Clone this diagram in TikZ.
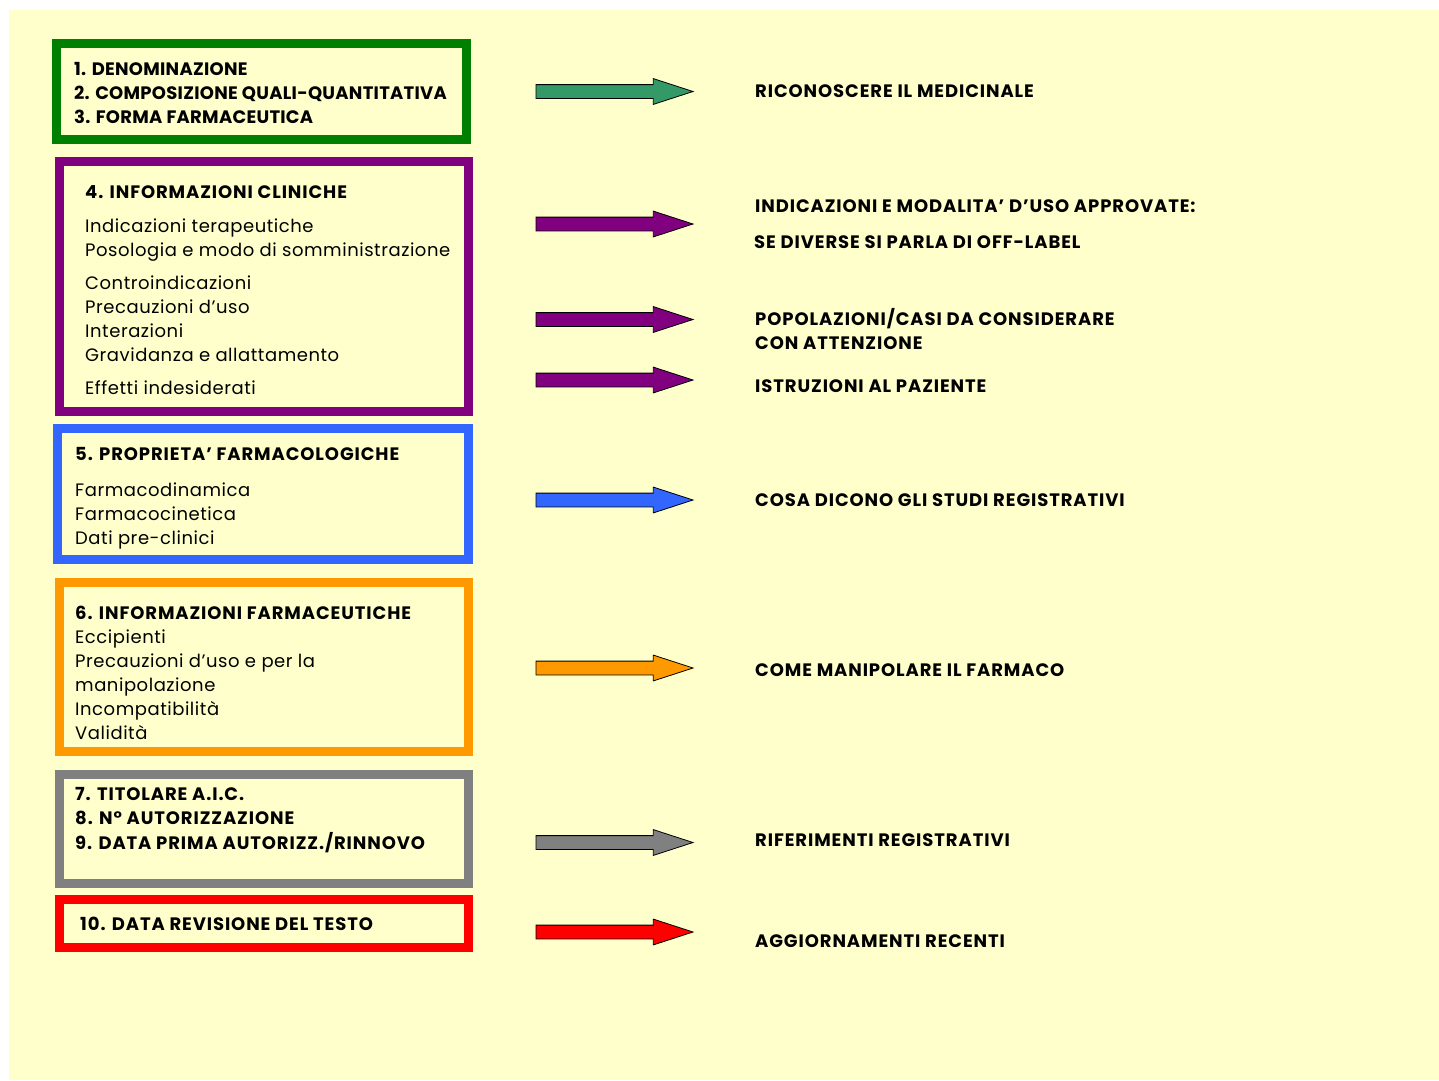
\documentclass[tikz,border=0pt]{standalone}
\usepackage{fontspec}
\setmainfont{Poppins}
\usetikzlibrary{shapes.arrows}

\definecolor{sfondo}{HTML}{FFFFCC}
\definecolor{verde}{HTML}{008000}
\definecolor{verdefr}{HTML}{339966}
\definecolor{viola}{HTML}{800080}
\definecolor{blu}{HTML}{3366FF}
\definecolor{arancio}{HTML}{FF9900}
\definecolor{grigio}{HTML}{808080}
\definecolor{rosso}{HTML}{FF0000}

\tikzset{
  riquadro/.style={draw=#1, line width=9pt, inner sep=0pt, outer sep=0pt, anchor=north west},
  freccia/.style={single arrow, draw=black, line width=0.8pt, fill=#1, inner xsep=0pt, inner ysep=6.5pt,
    outer sep=0pt, minimum height=157pt, single arrow head extend=6pt,
    single arrow tip angle=36, anchor=west},
  voce/.style={anchor=base west, inner sep=0pt,
    font=\fontsize{18}{24}\selectfont\addfontfeature{LetterSpace=3}},
  titolo/.style={anchor=base west, inner sep=0pt,
    font=\fontsize{18}{24}\selectfont\bfseries\addfontfeature{LetterSpace=5}},
  stretto/.style={font=\fontsize{18}{24}\selectfont\bfseries\addfontfeature{LetterSpace=1.5}},
}

\begin{document}
\begin{tikzpicture}[x=1pt,y=-1pt]
    \useasboundingbox (0,0) rectangle (1439,1080);
    \fill[sfondo] (9,10) rectangle (1439,1080);

    \node[riquadro=verde, minimum width=410, minimum height=96] (den) at (56.5,43.5) {};
    \node[riquadro=viola, minimum width=409, minimum height=250] (clin) at (59.5,161.5) {};
    \node[riquadro=blu, minimum width=411.5, minimum height=131.5] (prop) at (57,428) {};
    \node[riquadro=arancio, minimum width=408.5, minimum height=169.5] (farm) at (59.5,582) {};
    \node[riquadro=grigio, minimum width=409, minimum height=108.5] (aic) at (59.5,774.5) {};
    \node[riquadro=rosso, minimum width=409, minimum height=48] (rev) at (59.5,899.5) {};

    \node[titolo, stretto] (tden) at (74,75) {\begin{tabular}[t]{@{}l@{}}
      1. DENOMINAZIONE\\
      2. COMPOSIZIONE QUALI-QUANTITATIVA\\
      3. FORMA FARMACEUTICA\end{tabular}};
    \node[titolo] (tclin) at (85,198) {4. INFORMAZIONI CLINICHE};
    \node[voce] (vclin) at (85,232.5) {\begin{tabular}[t]{@{}l@{}}
      Indicazioni terapeutiche\\
      Posologia e modo di somministrazione\\[9pt]
      Controindicazioni\\
      Precauzioni d’uso\\
      Interazioni\\
      Gravidanza e allattamento\\[9pt]
      Effetti indesiderati\end{tabular}};
    \node[titolo] (tprop) at (75,460.7) {5. PROPRIETA’ FARMACOLOGICHE};
    \node[voce] (vprop) at (75,496) {\begin{tabular}[t]{@{}l@{}}
      Farmacodinamica\\
      Farmacocinetica\\
      Dati pre-clinici\end{tabular}};
    \node[titolo] (tfarm) at (75,619.3) {6. INFORMAZIONI FARMACEUTICHE};
    \node[voce] (vfarm) at (75,643.3) {\begin{tabular}[t]{@{}l@{}}
      Eccipienti\\
      Precauzioni d’uso e per la\\
      manipolazione\\
      Incompatibilità\\
      Validità\end{tabular}};
    \node[titolo] (taic) at (75,800.7) {\begin{tabular}[t]{@{}l@{}}
      7. TITOLARE A.I.C.\\
      8. N° AUTORIZZAZIONE\\
      9. DATA PRIMA AUTORIZZ./RINNOVO\end{tabular}};
    \node[titolo] (trev) at (80,930) {10. DATA REVISIONE DEL TESTO};

    \node[freccia=verdefr] (f1) at (536,91.5) {};
    \node[freccia=viola] (f2) at (536,224) {};
    \node[freccia=viola] (f3) at (536,319.5) {};
    \node[freccia=viola] (f4) at (536,380) {};
    \node[freccia=blu] (f5) at (536,500) {};
    \node[freccia=arancio] (f6) at (536,668) {};
    \node[freccia=grigio] (f7) at (536,842.5) {};
    \node[freccia=rosso] (f8) at (536,932) {};

    \node[titolo] (l1) at (755,97.5) {RICONOSCERE IL MEDICINALE};
    \node[titolo] (l2) at (755,212.3) {INDICAZIONI E MODALITA’ D’USO APPROVATE:};
    \node[titolo] (l3) at (754,248.3) {SE DIVERSE SI PARLA DI OFF-LABEL};
    \node[titolo] (l4) at (755,325.7) {\begin{tabular}[t]{@{}l@{}}
      POPOLAZIONI/CASI DA CONSIDERARE\\
      CON ATTENZIONE\end{tabular}};
    \node[titolo] (l5) at (755,392.7) {ISTRUZIONI AL PAZIENTE};
    \node[titolo] (l6) at (755,506) {COSA DICONO GLI STUDI REGISTRATIVI};
    \node[titolo] (l7) at (755,676) {COME MANIPOLARE IL FARMACO};
    \node[titolo] (l8) at (755,846) {RIFERIMENTI REGISTRATIVI};
    \node[titolo] (l9) at (755,947) {AGGIORNAMENTI RECENTI};
\end{tikzpicture}
\end{document}
